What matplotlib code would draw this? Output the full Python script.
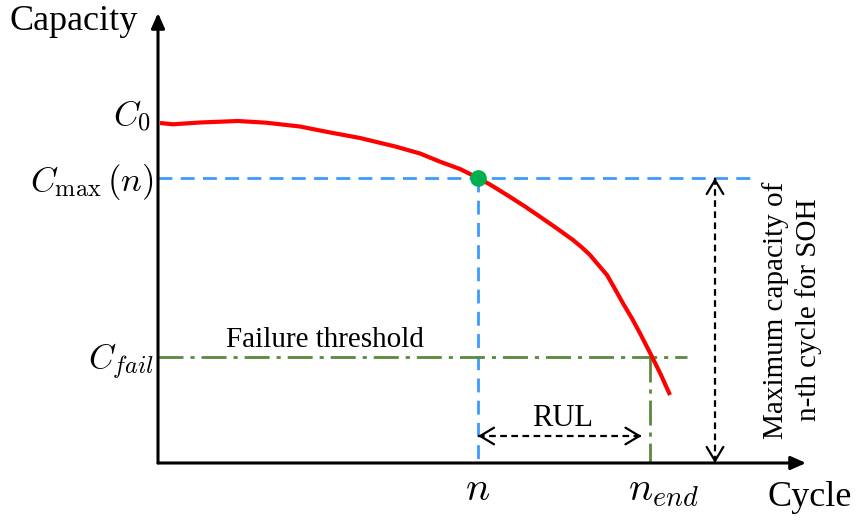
import matplotlib
matplotlib.use("Agg")
import matplotlib.pyplot as plt
from matplotlib.patches import FancyArrowPatch

plt.rcParams["font.family"] = ["Liberation Serif", "DejaVu Serif"]
plt.rcParams["mathtext.fontset"] = "cm"

# Capacity fade curve (schematic units: cycles along x, capacity along y)
cycle = [2, 15, 42, 80, 108, 142, 168, 202, 238, 262, 282, 302, 320, 332, 349,
         367, 382, 399, 415, 424, 432, 440, 449, 457, 465, 474, 482, 494, 503, 512]
capacity = [340, 338.7, 340.5, 342, 340.3, 336.5, 331.3, 325, 316.3, 309.5, 301.3, 294,
            285, 278.5, 268, 256.5, 246.3, 234.5, 223, 215.5, 208, 198.5, 188, 174,
            159.7, 144.5, 129.7, 106.3, 88, 68]

# Key levels / cycles
c0 = 340
c_max_n = 285
c_fail = 106
n_now = 320
n_end = 491.5

# Axis extents
x_axis_end = 648
y_axis_end = 450
blue_line_end = 594
fail_line_end = 529
soh_arrow_x = 557
rul_arrow_y = 27

fig = plt.figure(figsize=(8.56, 5.22), dpi=100)
ax = fig.add_axes([0, 0, 1, 1])
ax.set_xlim(-158, 698)
ax.set_ylim(-59, 463)
ax.axis("off")

# Axes with filled arrow heads
for tip in [(x_axis_end, 0), (0, y_axis_end)]:
    ax.add_patch(FancyArrowPatch((0, 0), tip, arrowstyle="-|>,head_length=0.45,head_width=0.2",
                                 mutation_scale=20, lw=2.2, color="black",
                                 shrinkA=0, shrinkB=0, zorder=5))

blue = "#3d9bff"
green = "#5b8a3a"

# C_max(n) guide lines
ax.plot([0, blue_line_end], [c_max_n, c_max_n], color=blue, lw=2, dashes=(5, 3), zorder=2)
ax.plot([n_now, n_now], [c_max_n, 0], color=blue, lw=2, dashes=(5, 3), zorder=2)

# Failure threshold lines
ax.plot([0, fail_line_end], [c_fail, c_fail], color=green, lw=2,
        dashes=(9, 2.5, 1.5, 2.5), zorder=2)
ax.plot([n_end, n_end], [c_fail, 0], color=green, lw=2,
        dashes=(9, 2.5, 1.5, 2.5), zorder=2)

# Capacity curve and current point
ax.plot(cycle, capacity, color="red", lw=3, solid_capstyle="butt",
        solid_joinstyle="round", zorder=3)
ax.plot([n_now], [c_max_n], "o", color="#00b050", ms=11, zorder=4)

# Dashed double-headed arrows
def dashed_double_arrow(p0, p1):
    ax.plot([p0[0], p1[0]], [p0[1], p1[1]], color="black", lw=1.6, dashes=(3, 2), zorder=3)
    for a, b in [(p0, p1), (p1, p0)]:
        dx = (a[0] - b[0]) * 0.02
        dy = (a[1] - b[1]) * 0.02
        ax.add_patch(FancyArrowPatch((a[0] - dx, a[1] - dy), a,
                                     arrowstyle="->,head_length=0.5,head_width=0.3",
                                     mutation_scale=20, lw=1.6, color="black",
                                     shrinkA=0, shrinkB=0, zorder=3))

dashed_double_arrow((n_now, rul_arrow_y), (n_end - 8, rul_arrow_y))
dashed_double_arrow((soh_arrow_x, c_max_n), (soh_arrow_x, 0))

# Text labels
ax.text(-84, 441, "Capacity", fontsize=26, ha="center", va="center")
ax.text(652, -34, "Cycle", fontsize=26, ha="center", va="center")
ax.text(167, 123, "Failure threshold", fontsize=21, ha="center", va="center")
ax.text(405, 45, "RUL", fontsize=22, ha="center", va="center")
ax.text(634, 153, "Maximum capacity of\nn-th cycle for SOH", fontsize=21,
        rotation=90, ha="center", va="center", multialignment="center", linespacing=1.25)

ax.text(-7, c0 + 7, r"$C_0$", fontsize=25, ha="right", va="center")
ax.text(-4, c_max_n - 4, r"$C_{\max}\,(n)$", fontsize=25, ha="right", va="center")
ax.text(-4, c_fail - 5, r"$C_{fail}$", fontsize=25, ha="right", va="center")
ax.text(n_now, -37, r"$n$", fontsize=29, ha="center", va="baseline")
ax.text(n_end - 21, -37, r"$n_{end}$", fontsize=29, ha="left", va="baseline")

fig.savefig("out.png", dpi=100)
